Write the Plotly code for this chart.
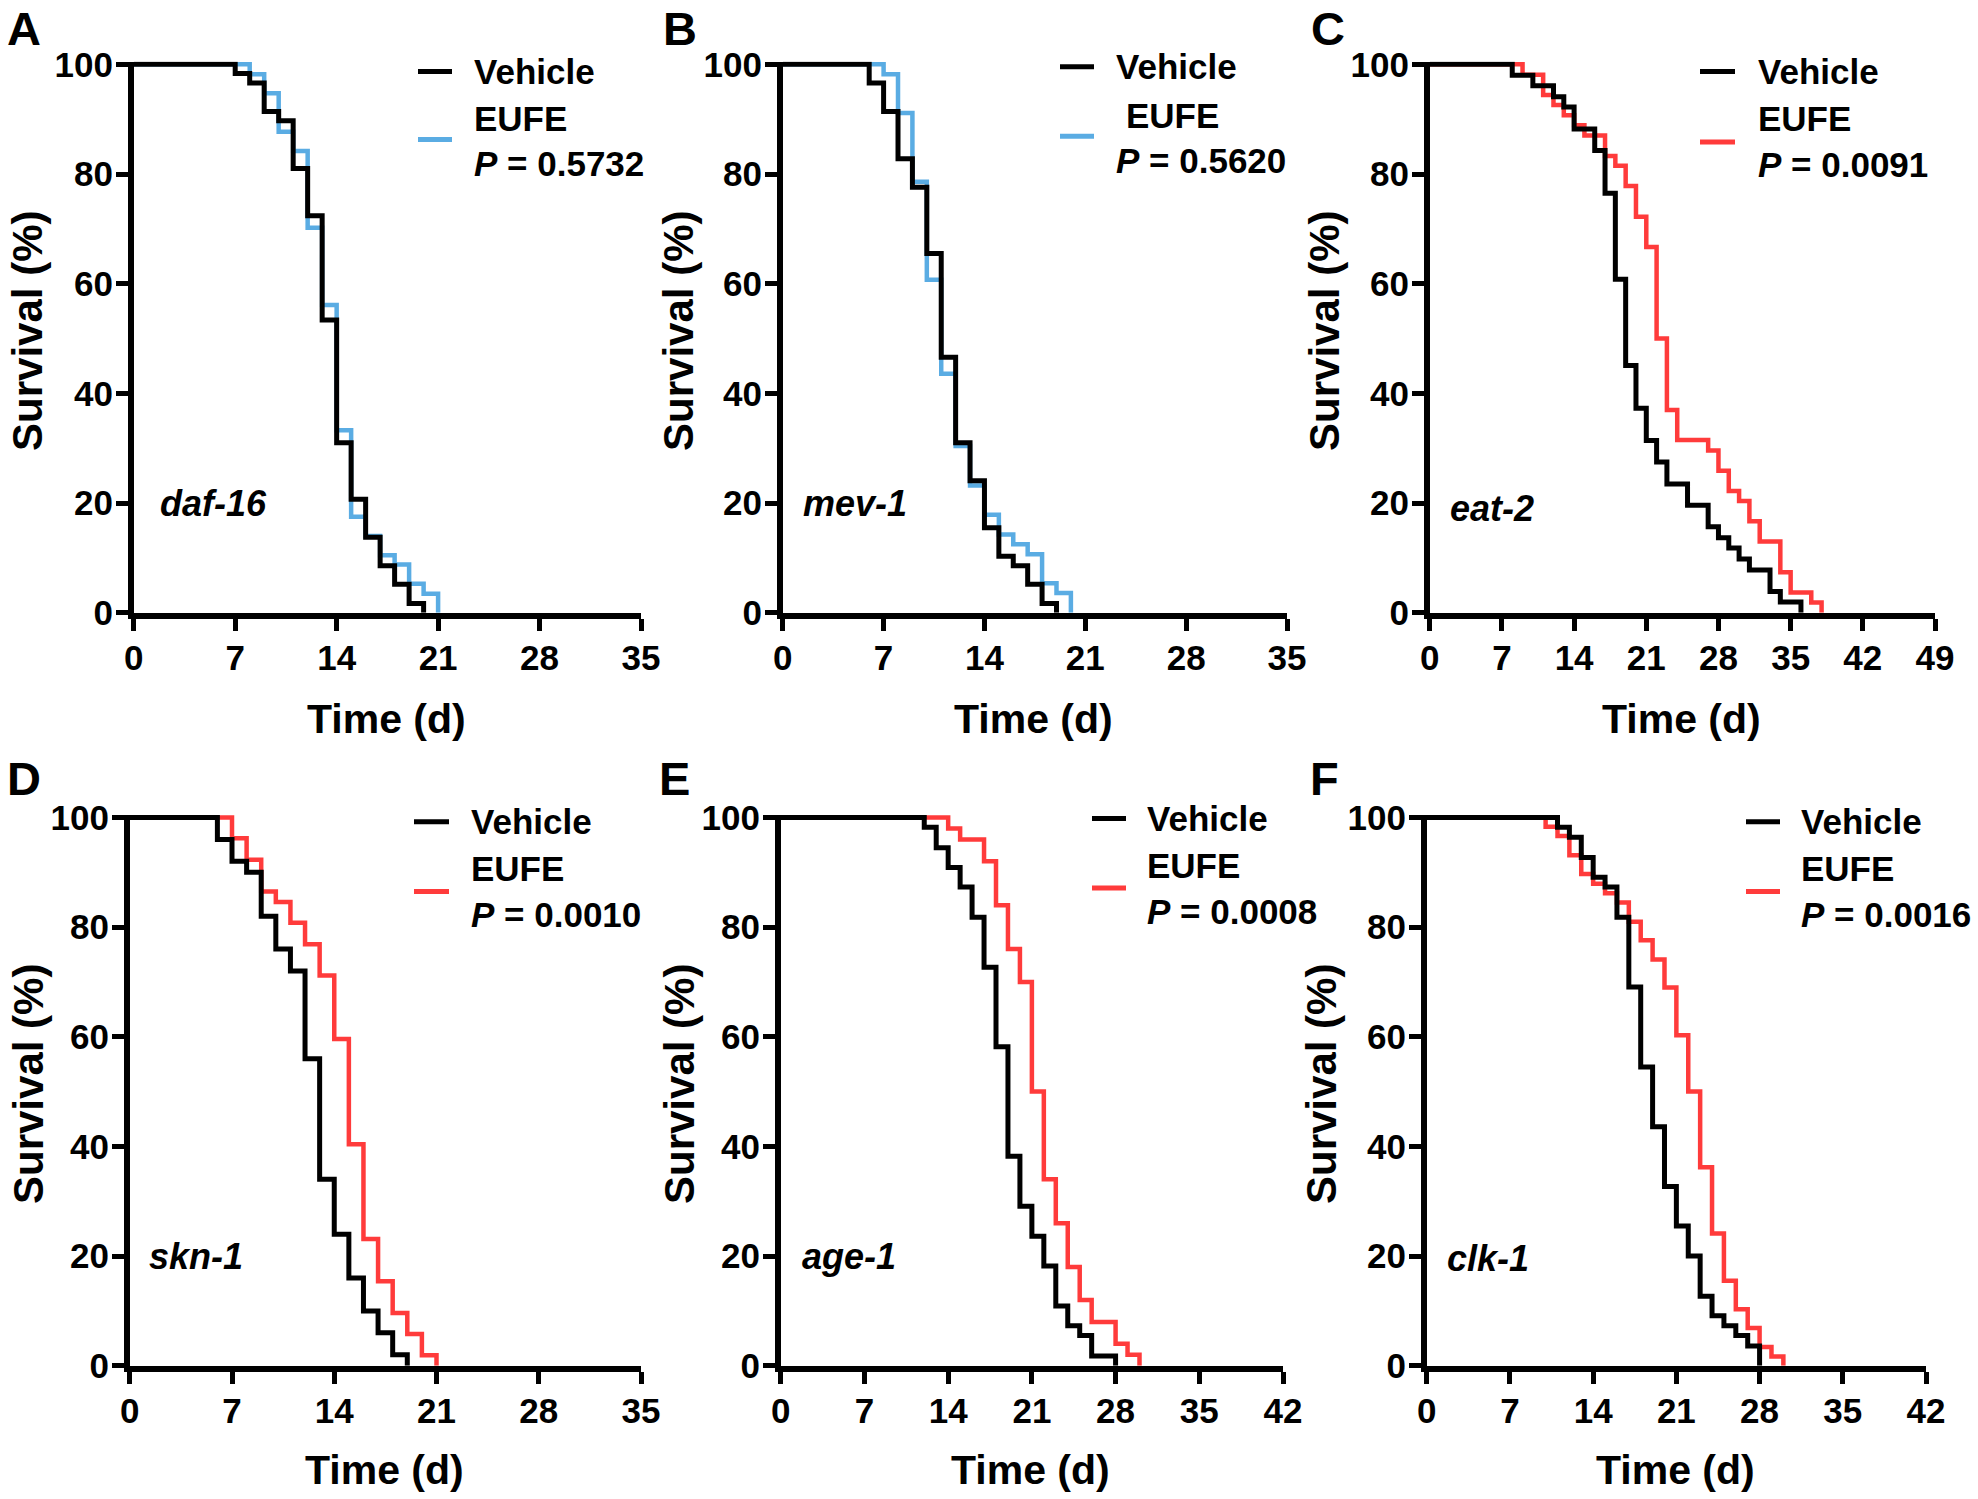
import plotly.graph_objects as go

# Reference frame is 1978x1499 (page body margin is removed in the page script)
W, H = 1978, 1499
FONT = "Liberation Sans"
BLUE = "#5aace3"
RED = "#ff3b3b"

# ---------------- data ----------------
# A  daf-16
daf16_vehicle_days = [0, 7, 8, 9, 10, 11, 12, 13, 14, 15, 16, 17, 18, 19, 20]
daf16_vehicle_surv = [100, 98.3, 96.6, 91.4, 89.7, 81.0, 72.4, 53.4, 31.0, 20.7, 13.8, 8.6, 5.2, 1.7, 0]
daf16_eufe_days = [0, 8, 9, 10, 11, 12, 13, 14, 15, 16, 17, 18, 19, 20, 21]
daf16_eufe_surv = [100, 98.2, 94.7, 87.7, 84.2, 70.2, 56.1, 33.3, 17.5, 14.0, 10.5, 8.8, 5.3, 3.5, 0]
# B  mev-1
mev1_vehicle_days = [0, 6, 7, 8, 9, 10, 11, 12, 13, 14, 15, 16, 17, 18, 19]
mev1_vehicle_surv = [100, 96.6, 91.4, 82.8, 77.6, 65.5, 46.6, 31.0, 24.1, 15.5, 10.3, 8.6, 5.2, 1.7, 0]
mev1_eufe_days = [0, 7, 8, 9, 10, 11, 12, 13, 14, 15, 16, 17, 18, 19, 20]
mev1_eufe_surv = [100, 98.2, 91.1, 78.6, 60.7, 43.6, 30.4, 23.2, 17.9, 14.3, 12.5, 10.7, 5.4, 3.6, 0]
# C  eat-2
eat2_vehicle_days = [0, 8, 10, 12, 13, 14, 16, 17, 18, 19, 20, 21, 22, 23, 25, 27, 28, 29, 30, 31, 33, 34, 36]
eat2_vehicle_surv = [100, 98.0, 96.1, 94.1, 92.2, 88.2, 84.3, 76.5, 60.8, 45.1, 37.3, 31.4, 27.5, 23.5,
                     19.6, 15.7, 13.7, 11.8, 9.8, 7.8, 3.9, 2.0, 0]
eat2_eufe_days = [0, 9, 11, 12, 13, 14, 15, 17, 18, 19, 20, 21, 22, 23, 24, 27, 28, 29, 30, 31, 32, 34, 35, 37, 38]
eat2_eufe_surv = [100, 98.1, 94.4, 92.6, 90.7, 88.9, 87.0, 83.3, 81.5, 77.8, 72.2, 66.7, 50.0, 37.0, 31.5,
                  29.6, 25.9, 22.2, 20.4, 16.7, 13.0, 7.4, 3.7, 1.9, 0]
# D  skn-1
skn1_vehicle_days = [0, 6, 7, 8, 9, 10, 11, 12, 13, 14, 15, 16, 17, 18, 19]
skn1_vehicle_surv = [100, 96, 92, 90, 82, 76, 72, 56, 34, 24, 16, 10, 6, 2, 0]
skn1_eufe_days = [0, 7, 8, 9, 10, 11, 12, 13, 14, 15, 16, 17, 18, 19, 20, 21]
skn1_eufe_surv = [100, 96.2, 92.3, 86.5, 84.6, 80.8, 76.9, 71.2, 59.6, 40.4, 23.1, 15.4, 9.6, 5.8, 1.9, 0]
# E  age-1
age1_vehicle_days = [0, 12, 13, 14, 15, 16, 17, 18, 19, 20, 21, 22, 23, 24, 25, 26, 28]
age1_vehicle_surv = [100, 98.2, 94.5, 90.9, 87.3, 81.8, 72.7, 58.2, 38.2, 29.1, 23.6, 18.2, 10.9, 7.3, 5.5, 1.8, 0]
age1_eufe_days = [0, 14, 15, 17, 18, 19, 20, 21, 22, 23, 24, 25, 26, 28, 29, 30]
age1_eufe_surv = [100, 98, 96, 92, 84, 76, 70, 50, 34, 26, 18, 12, 8, 4, 2, 0]
# F  clk-1
clk1_vehicle_days = [0, 11, 12, 13, 14, 15, 16, 17, 18, 19, 20, 21, 22, 23, 24, 25, 26, 27, 28]
clk1_vehicle_surv = [100, 98.2, 96.4, 92.7, 89.1, 87.3, 81.8, 69.1, 54.5, 43.6, 32.7, 25.5, 20.0, 12.7,
                     9.1, 7.3, 5.5, 3.6, 0]
clk1_eufe_days = [0, 10, 11, 12, 13, 14, 15, 16, 17, 18, 19, 20, 21, 22, 23, 24, 25, 26, 27, 28, 29, 30]
clk1_eufe_surv = [100, 98.3, 96.6, 93.1, 89.7, 87.9, 86.2, 84.5, 81.0, 77.6, 74.1, 69.0, 60.3, 50.0,
                  36.2, 24.1, 15.5, 10.3, 6.9, 3.4, 1.7, 0]

panel_letters = ["A", "B", "C", "D", "E", "F"]
gene_names = ["daf-16", "mev-1", "eat-2", "skn-1", "age-1", "clk-1"]
p_values = ["0.5732", "0.5620", "0.0091", "0.0010", "0.0008", "0.0016"]
x_max_days = [35, 35, 49, 35, 42, 42]
y_ticks = [0, 20, 40, 60, 80, 100]
series_names = ["Vehicle", "EUFE"]

vehicle_data = [(daf16_vehicle_days, daf16_vehicle_surv), (mev1_vehicle_days, mev1_vehicle_surv),
                (eat2_vehicle_days, eat2_vehicle_surv), (skn1_vehicle_days, skn1_vehicle_surv),
                (age1_vehicle_days, age1_vehicle_surv), (clk1_vehicle_days, clk1_vehicle_surv)]
eufe_data = [(daf16_eufe_days, daf16_eufe_surv), (mev1_eufe_days, mev1_eufe_surv),
             (eat2_eufe_days, eat2_eufe_surv), (skn1_eufe_days, skn1_eufe_surv),
             (age1_eufe_days, age1_eufe_surv), (clk1_eufe_days, clk1_eufe_surv)]
eufe_colors = [BLUE, BLUE, RED, RED, RED, RED]

# ---------------- layout geometry (pixels in the 1978x1499 frame) ----------------
# (x of day 0, x of last day, y of 100 %, y of 0 %)
geom = [
    (131, 641, 64.3, 615.6),
    (780, 1287, 64.3, 615.6),
    (1427, 1935, 64.3, 615.6),
    (127, 641, 817.5, 1368.5),
    (778, 1283, 817.5, 1368.5),
    (1424, 1926, 817.5, 1368.5),
]
# panel letters: (x of left edge, y of box top)
letter_pos = [(5, 0), (661, 0), (1309, 0), (5, 750), (657, 750), (1308, 750)]
# legend key: line x0, x1, text x, Vehicle y, EUFE-line y, EUFE text y, P text y, EUFE text x
legend_geom = [
    (418, 452, 472, 71.5, 139.6, 118.0, 163.5, 472),
    (1060, 1094, 1114, 66.7, 136.2, 115.6, 160.2, 1124),
    (1700, 1735, 1756, 71.5, 142.1, 118.6, 164.2, 1756),
    (414, 449, 469, 821.8, 891.4, 868.8, 914.4, 469),
    (1092, 1126, 1145, 818.5, 888.0, 865.5, 911.0, 1145),
    (1746, 1780, 1799, 821.8, 891.4, 868.8, 914.4, 1799),
]
ytitle_x = [28, 679, 1325, 28, 679, 1321]
gene_pos = [(1.7, 20), (1.3, 20), (1.8, 19), (1.2, 20), (1.6, 20), (1.5, 19.5)]

LW_AXIS = 5.5
YTOP = 100.5


def px(x):
    return x / W


def py(y):
    return 1 - y / H


fig = go.Figure()
layout = dict(
    template="none",
    width=W, height=H, margin=dict(l=0, r=0, t=0, b=0, autoexpand=False),
    paper_bgcolor="white", plot_bgcolor="white",
    font=dict(family=FONT, color="black"),
    showlegend=False,
    annotations=[], shapes=[],
)

tickfont = dict(family=FONT, size=35, color="black", weight="bold")

for i in range(6):
    n = "" if i == 0 else str(i + 1)
    x0, x1, y100, y0 = geom[i]
    per_pct = (y0 - y100) / 100.0
    dom_top = y100 - (YTOP - 100) * per_pct
    half = LW_AXIS / 2
    layout["xaxis" + n] = dict(
        domain=[px(x0 + half), px(x1)], range=[0, x_max_days[i]], anchor="y" + n,
        tickvals=list(range(0, x_max_days[i] + 1, 7)), ticks="outside", ticklen=12,
        tickwidth=4.5, tickcolor="black", showline=True, linewidth=LW_AXIS, linecolor="black",
        showgrid=False, zeroline=False, tickfont=tickfont, automargin=False,
        ticklabelstandoff=-3,
    )
    layout["yaxis" + n] = dict(
        domain=[py(y0 - half), py(dom_top)], range=[0, YTOP], anchor="x" + n,
        tickvals=y_ticks, ticks="outside", ticklen=12, tickwidth=4.5, tickcolor="black",
        showline=True, linewidth=LW_AXIS, linecolor="black", showgrid=False, zeroline=False,
        tickfont=tickfont, ticklabelstandoff=-4, automargin=False,
    )
    ed, es = eufe_data[i]
    vd, vs = vehicle_data[i]
    fig.add_trace(go.Scatter(
        x=ed, y=es, mode="lines", line=dict(shape="hv", color=eufe_colors[i], width=4.5),
        name=series_names[1], xaxis="x" + n, yaxis="y" + n, hoverinfo="skip",
    ))
    fig.add_trace(go.Scatter(
        x=vd, y=vs, mode="lines", line=dict(shape="hv", color="black", width=5),
        name=series_names[0], xaxis="x" + n, yaxis="y" + n, hoverinfo="skip",
    ))

    # legend keys (drawn by hand to match the GraphPad layout)
    lx0, lx1, tx, vy, ely, ety, pty, etx = legend_geom[i]
    for (yy, col) in [(vy, "black"), (ely, eufe_colors[i])]:
        layout["shapes"].append(dict(
            type="line", xref="paper", yref="paper", x0=px(lx0), x1=px(lx1), y0=py(yy), y1=py(yy),
            line=dict(color=col, width=5),
        ))
    legfont = dict(family=FONT, size=35, color="black", weight="bold")
    for (txt, xx, yy) in [(series_names[0], tx, vy), (series_names[1], etx, ety),
                          ("<i>P</i> = " + p_values[i], tx, pty)]:
        layout["annotations"].append(dict(
            text=txt, xref="paper", yref="paper", x=px(xx), y=py(yy),
            xanchor="left", yanchor="middle", showarrow=False, font=legfont,
        ))

    # panel letter
    lx, ly = letter_pos[i]
    layout["annotations"].append(dict(
        text=panel_letters[i], xref="paper", yref="paper", x=px(lx), y=py(ly),
        xanchor="left", yanchor="top", showarrow=False,
        font=dict(family=FONT, size=47, color="black", weight="bold"),
    ))
    # gene label
    gx, gy = gene_pos[i]
    layout["annotations"].append(dict(
        text="<i>" + gene_names[i] + "</i>", xref="x" + n, yref="y" + n, x=gx, y=gy,
        xanchor="left", yanchor="middle", showarrow=False,
        font=dict(family=FONT, size=36, color="black", weight="bold"),
    ))
    # axis titles
    row_bottom = 719 if i < 3 else 1470
    layout["annotations"].append(dict(
        text="Time (d)", xref="paper", yref="paper", x=px((x0 + x1) / 2), y=py(row_bottom),
        xanchor="center", yanchor="middle", showarrow=False,
        font=dict(family=FONT, size=41, color="black", weight="bold"),
    ))
    layout["annotations"].append(dict(
        text="Survival (%)", xref="paper", yref="paper", x=px(ytitle_x[i]),
        y=py((y100 + y0) / 2 - 9), textangle=-90,
        xanchor="center", yanchor="middle", showarrow=False,
        font=dict(family=FONT, size=42, color="black", weight="bold"),
    ))

fig.update_layout(**layout)
fig.write_html(
    "out.html", config={"displayModeBar": False},
    post_script="document.body.style.margin='0';document.body.style.overflow='hidden';",
)
